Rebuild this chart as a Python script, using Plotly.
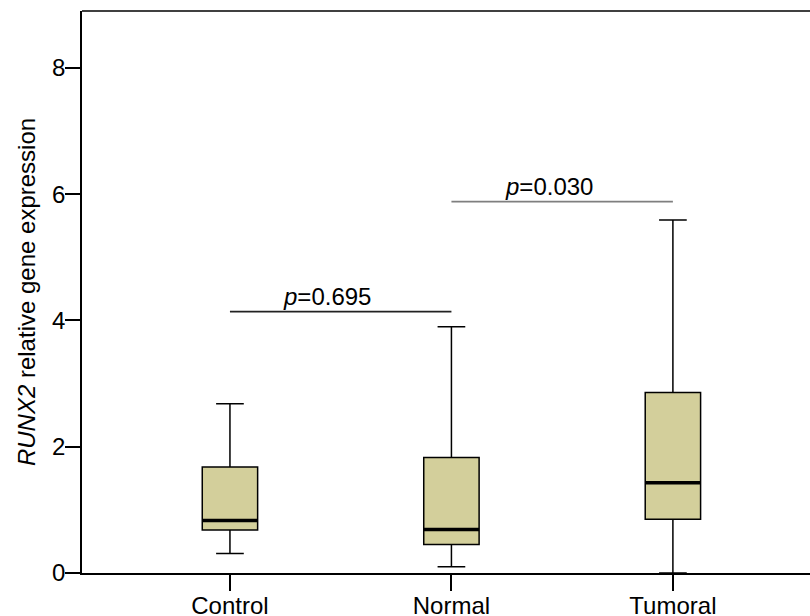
import plotly.graph_objects as go

categories = ["Control", "Normal", "Tumoral"]
lower_whisker = [0.31, 0.10, 0.0]
q1_vals = [0.68, 0.45, 0.85]
median_vals = [0.83, 0.69, 1.43]
q3_vals = [1.68, 1.83, 2.86]
upper_whisker = [2.68, 3.90, 5.59]

bracket_pairs = [(0, 1), (1, 2)]
bracket_levels = [4.14, 5.88]
bracket_pvals = ["0.695", "0.030"]
bracket_colors = ["#222222", "#7f7f7f"]

y_ticks = [0, 2, 4, 6, 8]

FONT = "Arial, 'Liberation Sans', sans-serif"
BOX_W = 0.25
FILL = "rgb(211,207,155)"

fig = go.Figure()
xs = list(range(len(categories)))
for i, name in enumerate(categories):
    fig.add_trace(go.Box(
        x=[xs[i]], q1=[q1_vals[i]], median=[median_vals[i]], q3=[q3_vals[i]],
        lowerfence=[lower_whisker[i]], upperfence=[upper_whisker[i]],
        width=BOX_W, whiskerwidth=0.5, fillcolor=FILL,
        line=dict(color="black", width=1.5), boxpoints=False,
        showlegend=False, name=name, hoverinfo="skip",
    ))
    fig.add_shape(type="line", xref="x", yref="y",
                  x0=xs[i] - BOX_W / 2, x1=xs[i] + BOX_W / 2,
                  y0=median_vals[i], y1=median_vals[i],
                  line=dict(color="black", width=3.5))

for (a, b), lvl, p, col in zip(bracket_pairs, bracket_levels, bracket_pvals, bracket_colors):
    fig.add_shape(type="line", xref="x", yref="y", x0=a, x1=b, y0=lvl, y1=lvl,
                  line=dict(color=col, width=1.8))
    fig.add_annotation(x=(a + b) / 2 - 0.06, y=lvl, xref="x", yref="y",
                       text=f"<i>p</i>={p}", showarrow=False, yanchor="bottom",
                       font=dict(family=FONT, size=24, color="black"), yshift=0)

fig.add_shape(type="line", xref="paper", yref="paper", x0=0, x1=1, y0=1, y1=1,
              line=dict(color="black", width=1.5))

fig.update_layout(
    width=810, height=616,
    margin=dict(l=82, r=0, t=11, b=43),
    paper_bgcolor="white", plot_bgcolor="white",
    font=dict(family=FONT, size=24, color="black"),
    xaxis=dict(range=[-0.668, 2.619], tickvals=xs, ticktext=categories,
               showgrid=False, zeroline=False, showline=True, linecolor="black",
               linewidth=2, ticks="outside", ticklen=16, tickwidth=2,
               tickcolor="black", tickfont=dict(size=24), automargin=False,
               ticklabelstandoff=-6),
    yaxis=dict(range=[0, 8.9], tickvals=y_ticks, showgrid=False, zeroline=False,
               showline=True, linecolor="black", linewidth=1.5, ticks="outside",
               ticklen=15, tickwidth=2, tickcolor="black",
               tickfont=dict(size=24), automargin=False, ticklabelstandoff=-5,
               title=dict(text="<i>RUNX2</i> relative gene expression",
                          font=dict(size=24), standoff=10)),
)

fig.write_html("out.html", config={"displayModeBar": False},
               post_script="document.body.style.margin='0';document.body.style.overflow='hidden';")
